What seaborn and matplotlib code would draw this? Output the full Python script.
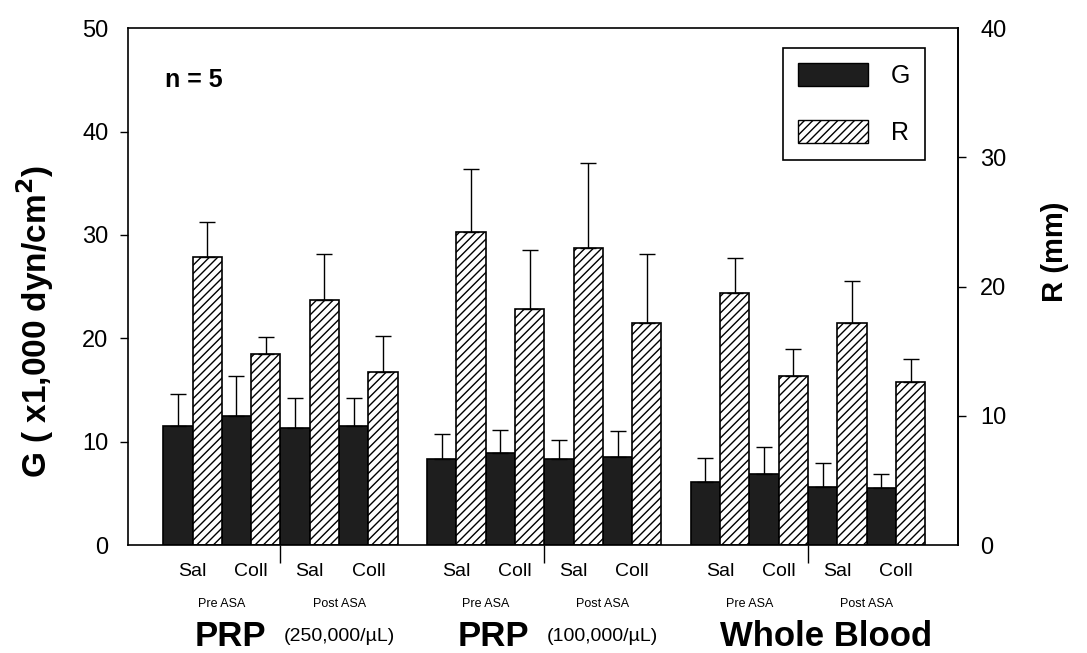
import numpy as np
import pandas as pd
import matplotlib
matplotlib.use("Agg")
import matplotlib.pyplot as plt
from matplotlib.patches import Patch
import seaborn as sns

# Values (means and upper SD)
blood_groups = ['PRP', 'PRP', 'Whole Blood']
blood_notes = ['(250,000/\u00b5L)', '(100,000/\u00b5L)', '']
asa_labels = ['Pre ASA', 'Post ASA']
treatments = ['Sal', 'Coll']

G_mean = [11.5, 12.5, 11.3, 11.5, 8.3, 8.9, 8.3, 8.5, 6.1, 6.9, 5.6, 5.5]
G_err = [3.1, 3.9, 2.9, 2.7, 2.5, 2.2, 1.9, 2.5, 2.3, 2.6, 2.4, 1.4]
R_mean = [22.3, 14.8, 19.0, 13.4, 24.2, 18.3, 23.0, 17.2, 19.5, 13.1, 17.2, 12.6]
R_err = [2.7, 1.3, 3.5, 2.8, 4.9, 4.5, 6.6, 5.3, 2.7, 2.1, 3.2, 1.8]

G_max, R_max = 50, 40
scale = G_max / R_max  # R axis (right) mapped onto G axis (left)

# positions: 4 conditions per blood group, half-slot gap between groups
n_per = len(asa_labels) * len(treatments)
positions = [i + 0.5 * (i // n_per) for i in range(len(G_mean))]
cond_labels = [treatments[i % 2] for i in range(len(G_mean))]

df = pd.DataFrame({
    'pos': positions * 2,
    'measure': ['G'] * len(G_mean) + ['R'] * len(R_mean),
    'value': G_mean + [r * scale for r in R_mean],
})

sns.set_style('ticks')
plt.rcParams['font.family'] = ['Liberation Sans', 'DejaVu Sans']
plt.rcParams['hatch.linewidth'] = 1.0
for key in ['text.color', 'axes.labelcolor', 'xtick.color', 'ytick.color']:
    plt.rcParams[key] = 'black'

fig = plt.figure(figsize=(10.87, 6.53), dpi=100)
ax = fig.add_axes([0.1178, 0.165, 0.7636, 0.792])

sns.barplot(data=df, x='pos', y='value', hue='measure', native_scale=True,
            width=1.0, palette={'G': '#1e1e1e', 'R': 'white'}, saturation=1,
            edgecolor='black', linewidth=1.2, errorbar=None, legend=False, ax=ax)

pos_arr = np.array(positions)
for p in ax.patches:
    cx = p.get_x() + p.get_width() / 2
    h = p.get_height()
    i = int(np.argmin(np.abs(pos_arr - cx)))
    if cx > pos_arr[i]:
        p.set_hatch('////')
        err = R_err[i] * scale
    else:
        err = G_err[i]
    ax.errorbar(cx, h, yerr=[[0], [err]], fmt='none', ecolor='black',
                elinewidth=1.0, capsize=6, capthick=1.0, zorder=1)

ax.set_xlim(-1.1, 13.06)
ax.set_ylim(0, G_max)
ax.set_xlabel('')
ax.set_ylabel('')
ax.set_yticks(range(0, G_max + 1, 10))
ax.tick_params(axis='y', labelsize=17, length=6, width=1, pad=8)
for t in (ax.yaxis.get_major_ticks()[0], ax.yaxis.get_major_ticks()[-1]):
    t.tick1line.set_visible(False)

# boundary ticks between Pre and Post ASA, condition labels as minor ticks
bounds = [np.mean(positions[k * n_per:(k + 1) * n_per]) for k in range(len(blood_groups))]
ax.set_xticks(bounds)
ax.set_xticklabels([])
ax.tick_params(axis='x', which='major', length=13, width=1)
ax.set_xticks(positions, minor=True)
ax.set_xticklabels(cond_labels, minor=True, fontsize=14)
ax.tick_params(axis='x', which='minor', length=0, pad=13)

for s in ax.spines.values():
    s.set_visible(True)
    s.set_linewidth(1.2)
    s.set_color('black')

sec = ax.secondary_yaxis('right', functions=(lambda g: g / scale, lambda r: r * scale))
sec.set_yticks(range(0, R_max + 1, 10))
sec.tick_params(labelsize=17, length=6, width=1, pad=10, colors='black')
sec.spines['right'].set_linewidth(1.2)
sec.spines['right'].set_color('black')
for t in (sec.yaxis.get_major_ticks()[0], sec.yaxis.get_major_ticks()[-1]):
    t.tick2line.set_visible(False)

# axis titles
fig.text(35 / 1087, 1 - 322 / 653, 'G ( x1,000 dyn/cm$^\\mathbf{2}$)', rotation=90,
         ha='center', va='center', fontsize=24, fontweight='bold')
fig.text(1055 / 1087, 1 - 252 / 653, 'R (mm)', rotation=90,
         ha='center', va='center', fontsize=21, fontweight='bold')

# ASA labels
for k in range(len(blood_groups)):
    for a in range(len(asa_labels)):
        idx = k * n_per + a * 2
        xc = (positions[idx] + positions[idx + 1]) / 2
        ax.annotate(asa_labels[a], xy=(xc, 0), xycoords=('data', 'axes fraction'),
                    xytext=(0, -42), textcoords='offset points',
                    ha='center', va='center', fontsize=9)

# blood group labels
for k, (name, note) in enumerate(zip(blood_groups, blood_notes)):
    if note:
        ax.annotate(name, xy=(bounds[k] - 0.25, 0), xycoords=('data', 'axes fraction'),
                    xytext=(0, -66), textcoords='offset points',
                    ha='right', va='center', fontsize=25, fontweight='bold')
        ax.annotate(note, xy=(bounds[k] + 0.05, 0), xycoords=('data', 'axes fraction'),
                    xytext=(0, -66), textcoords='offset points',
                    ha='left', va='center', fontsize=14)
    else:
        ax.annotate(name, xy=(bounds[k] + 0.3, 0), xycoords=('data', 'axes fraction'),
                    xytext=(0, -66), textcoords='offset points',
                    ha='center', va='center', fontsize=25, fontweight='bold')

ax.text(0.045, 0.90, 'n = 5', transform=ax.transAxes, fontsize=18,
        fontweight='bold', ha='left', va='center')

handles = [Patch(facecolor='#1e1e1e', edgecolor='black', label='G'),
           Patch(facecolor='white', edgecolor='black', hatch='////', label='R')]
leg = ax.legend(handles=handles, loc='upper right', bbox_to_anchor=(0.960, 0.961),
                borderaxespad=0, fontsize=18, handlelength=2.8, handleheight=1.05,
                labelspacing=1.25, handletextpad=0.9, borderpad=0.6,
                fancybox=False, framealpha=1)
leg.get_frame().set_edgecolor('black')
leg.get_frame().set_linewidth(1.2)

plt.savefig('out.png', dpi=100)
